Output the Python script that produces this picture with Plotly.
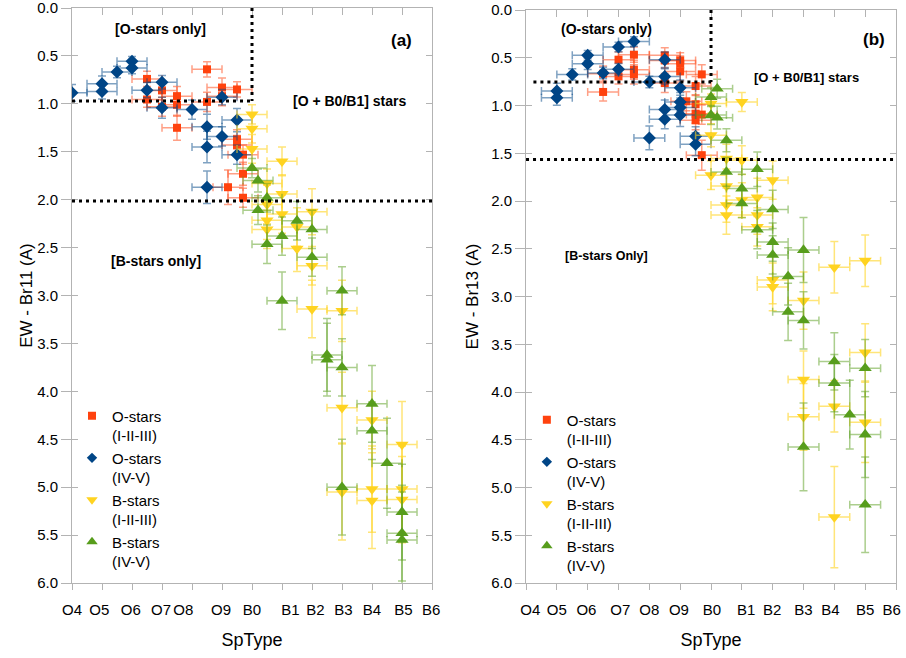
import plotly.graph_objects as go

# ---------------- data ----------------
# spectral-type scale: O4=0, O5=1, ... O9=5, B0=6, B1=7 ... B6=12
sp_labels = ["O4", "O5", "O6", "O7", "O8", "O9", "B0", "B1", "B2", "B3", "B4", "B5", "B6"]
sp_label_pos_a = [0.0, 0.91, 1.96, 2.97, 3.71, 4.97, 6.0, 7.28, 8.11, 9.05, 10.0, 11.05, 11.97]
sp_label_pos_b = [0.14, 1.0, 1.96, 3.06, 4.0, 4.96, 6.03, 7.14, 7.98, 9.0, 9.87, 11.0, 11.86]
sp_err = 0.5

# Panel (a): EW Br11
a_Ogiant_sp = [2.5, 2.5, 3, 3, 3.5, 3.5, 3.5, 4.5, 4.5, 5, 5, 5.5, 5.5, 5.5, 5.7, 5.7, 5.2, 5.7]
a_Ogiant_ew = [0.74, 0.955, 0.86, 1.03, 0.92, 1.01, 1.25, 0.64, 0.98, 0.83, 0.92, 0.85, 1.37, 1.43, 1.53, 1.73, 1.87, 1.98]
a_Ogiant_er = [0.08, 0.08, 0.1, 0.1, 0.1, 0.12, 0.13, 0.08, 0.1, 0.1, 0.1, 0.08, 0.1, 0.1, 0.1, 0.12, 0.18, 0.1]

a_Odwarf_sp = [0, 1, 1, 1.5, 2, 2, 2.5, 3, 3, 4, 4.5, 4.5, 4.5, 5, 5, 5.5, 5.5]
a_Odwarf_ew = [0.885, 0.79, 0.87, 0.667, 0.555, 0.625, 0.857, 0.774, 1.04, 1.06, 1.24, 1.45, 1.87, 1.34, 0.93, 1.17, 1.53]
a_Odwarf_er = [0.087, 0.08, 0.08, 0.06, 0.05, 0.06, 0.08, 0.07, 0.11, 0.1, 0.13, 0.165, 0.17, 0.1, 0.08, 0.12, 0.1]

a_Bgiant_sp = [6, 6, 6, 7, 6.5, 7, 8, 7, 6.5, 6.5, 7.5, 6.5, 7.5, 8, 8, 9, 9, 10, 11, 9, 10, 10, 11, 11]
a_Bgiant_ew = [1.11, 1.26, 1.47, 1.6, 1.83, 1.94, 2.125, 2.15, 2.05, 2.215, 2.285, 2.31, 2.51, 2.69, 3.14, 3.16, 4.17, 4.30, 4.555, 5.05, 5.02, 5.14, 5.02, 5.13]
a_Bgiant_er = [0.1, 0.15, 0.15, 0.15, 0.15, 0.2, 0.24, 0.2, 0.2, 0.2, 0.2, 0.2, 0.24, 0.2, 0.3, 0.32, 0.37, 0.3, 0.45, 0.5, 0.45, 0.5, 0.45, 0.45]

a_Bdwarf_sp = [6, 6.2, 6.5, 6.2, 7.5, 8, 7, 6.5, 8, 9, 7, 8.5, 8.5, 9, 10, 10, 10.5, 9, 11, 11, 11]
a_Bdwarf_ew = [1.67, 1.8, 1.98, 2.11, 2.22, 2.31, 2.38, 2.465, 2.6, 2.95, 3.055, 3.62, 3.67, 3.75, 4.13, 4.41, 4.75, 5.0, 5.26, 5.48, 5.55]
a_Bdwarf_er = [0.1, 0.12, 0.15, 0.15, 0.2, 0.2, 0.2, 0.2, 0.2, 0.25, 0.3, 0.38, 0.38, 0.3, 0.4, 0.3, 0.47, 0.5, 0.5, 0.5, 0.5]

# Panel (b): EW Br13
b_Ogiant_sp = [2.5, 2.5, 3, 3, 3.5, 3.5, 3.5, 4.5, 4.5, 4.5, 5, 5, 5, 5.5, 5.7, 5.2, 5.5, 5.5, 5.5, 5.7, 5.7]
b_Ogiant_ew = [0.667, 0.858, 0.52, 0.695, 0.468, 0.625, 0.674, 0.475, 0.528, 0.765, 0.528, 0.562, 0.643, 0.796, 0.674, 0.956, 0.987, 1.085, 1.155, 1.095, 1.52]
b_Ogiant_er = [0.08, 0.095, 0.08, 0.08, 0.08, 0.1, 0.1, 0.08, 0.08, 0.1, 0.08, 0.08, 0.1, 0.1, 0.1, 0.1, 0.1, 0.1, 0.1, 0.1, 0.157]

b_Odwarf_sp = [1, 1, 1.5, 2, 2, 2.5, 3, 3, 3.5, 4, 4.5, 4.5, 4.5, 4.5, 4, 5, 5, 5, 5, 5.5, 5.5]
b_Odwarf_ew = [0.848, 0.918, 0.674, 0.475, 0.562, 0.66, 0.388, 0.62, 0.329, 0.754, 0.521, 0.695, 1.043, 1.144, 1.339, 0.813, 0.963, 1.022, 1.10, 1.322, 1.405]
b_Odwarf_er = [0.08, 0.08, 0.06, 0.05, 0.06, 0.06, 0.05, 0.06, 0.05, 0.06, 0.08, 0.08, 0.1, 0.1, 0.125, 0.08, 0.1, 0.1, 0.12, 0.1, 0.12]

b_Bgiant_sp = [6, 7, 6, 6.5, 7, 6, 6.5, 6.5, 7, 7.5, 8, 6.5, 7.5, 7.5, 8, 8, 9, 10, 11, 11, 9, 10, 9, 11, 10]
b_Bgiant_ew = [0.98, 0.963, 1.311, 1.555, 1.572, 1.729, 1.844, 2.043, 1.99, 1.962, 1.782, 2.147, 2.147, 2.27, 2.826, 2.90, 3.043, 2.694, 2.625, 3.586, 3.87, 4.15, 4.26, 4.318, 5.31]
b_Bgiant_er = [0.1, 0.1, 0.12, 0.15, 0.15, 0.15, 0.18, 0.18, 0.18, 0.2, 0.2, 0.2, 0.2, 0.2, 0.25, 0.25, 0.3, 0.27, 0.27, 0.3, 0.3, 0.27, 0.35, 0.42, 0.53]

b_Bdwarf_sp = [6.2, 6, 6, 6.2, 6.5, 6.5, 7, 7, 7.5, 8, 7.5, 8, 8, 9, 8.5, 8.5, 9, 10, 11, 10, 10.5, 11, 9, 11]
b_Bdwarf_ew = [0.824, 0.911, 1.10, 1.127, 1.364, 1.695, 1.869, 2.025, 1.667, 2.088, 2.30, 2.43, 2.565, 2.513, 2.79, 3.16, 3.25, 3.68, 3.75, 3.906, 4.237, 4.446, 4.575, 5.18]
b_Bdwarf_er = [0.1, 0.1, 0.1, 0.12, 0.12, 0.15, 0.15, 0.15, 0.18, 0.2, 0.2, 0.2, 0.2, 0.34, 0.3, 0.3, 0.3, 0.3, 0.3, 0.3, 0.36, 0.45, 0.46, 0.5]

# region boundaries
a_bound_sp = 6.0
a_bound_ew_O = 0.97
a_bound_ew_B = 2.015
b_bound_sp = 6.0
b_bound_ew_O = 0.755
b_bound_ew_B = 1.565
b_bound_O_start = 0.24

series = [
    ("O-stars<br>(I-II-III)", "square", 8, "#ff420e", "rgba(255,66,14,0.5)"),
    ("O-stars<br>(IV-V)", "diamond", 10, "#004586", "rgba(0,69,134,0.5)"),
    ("B-stars<br>(I-II-III)", "triangle-down", 11.5, "#ffd320", "rgba(255,211,32,0.6)"),
    ("B-stars<br>(IV-V)", "triangle-up", 11.5, "#579d1c", "rgba(87,157,28,0.5)"),
]
legend_sizes = [8, 8, 10, 10]

panel_a = [(a_Ogiant_sp, a_Ogiant_ew, a_Ogiant_er), (a_Odwarf_sp, a_Odwarf_ew, a_Odwarf_er),
           (a_Bgiant_sp, a_Bgiant_ew, a_Bgiant_er), (a_Bdwarf_sp, a_Bdwarf_ew, a_Bdwarf_er)]
panel_b = [(b_Ogiant_sp, b_Ogiant_ew, b_Ogiant_er), (b_Odwarf_sp, b_Odwarf_ew, b_Odwarf_er),
           (b_Bgiant_sp, b_Bgiant_ew, b_Bgiant_er), (b_Bdwarf_sp, b_Bdwarf_ew, b_Bdwarf_er)]

fig = go.Figure()

for panel, xa, ya, leg in [(panel_a, "x", "y", "legend"), (panel_b, "x2", "y2", "legend2")]:
    for (name, sym, size, col, ecol), (sx, ew, er) in zip(series, panel):
        fig.add_trace(go.Scatter(
            x=sx, y=ew, mode="markers", xaxis=xa, yaxis=ya, showlegend=False,
            marker=dict(symbol=sym, size=size, color=col, line=dict(width=0)),
            error_x=dict(type="constant", value=sp_err, color=ecol, thickness=1.5, width=4),
            error_y=dict(type="data", array=er, color=ecol, thickness=1.5, width=4),
            hoverinfo="skip"))
    for (name, sym, size, col, ecol), lsz in zip(series, legend_sizes):
        fig.add_trace(go.Scatter(
            x=[None], y=[None], mode="markers", xaxis=xa, yaxis=ya, name=name, legend=leg,
            marker=dict(symbol=sym, size=lsz, color=col)))

# dummy traces for tick-only overlay axes
for xa, ya in [("x3", "y3"), ("x5", "y3"), ("x4", "y4"), ("x6", "y4")]:
    fig.add_trace(go.Scatter(x=[None], y=[None], xaxis=xa, yaxis=ya, showlegend=False))

GREY = "#b3b3b3"
FONT = "Liberation Sans, Arial, sans-serif"
XR = [0, 12]
YR = [6, 0]

def label_xaxis(domain, anchor, pos):
    return dict(domain=domain, anchor=anchor, range=XR, tickmode="array", tickvals=pos,
                ticktext=sp_labels, ticks="", showgrid=False, zeroline=False,
                showline=True, linecolor=GREY, linewidth=1, ticklabelstandoff=13,
                tickangle=0, automargin=False, ticklabeloverflow="allow",
                tickfont=dict(size=15, color="#000"),
                title=dict(text="SpType", font=dict(size=18, color="#000"), standoff=16))

def tick_xaxis(over, anchor, side, ticks, ln):
    return dict(overlaying=over, anchor=anchor, side=side, range=XR, tickmode="linear",
                tick0=0, dtick=1, ticks=ticks, ticklen=ln, tickcolor=GREY, tickwidth=1,
                showticklabels=False, showgrid=False, zeroline=False, automargin=False,
                showline=True, linecolor=GREY)

def label_yaxis(domain, anchor, title, standoff):
    return dict(domain=domain, anchor=anchor, range=YR, tickmode="linear", tick0=0, dtick=0.5,
                tickformat=".1f", ticks="outside", ticklen=10, tickcolor=GREY, tickwidth=1,
                showgrid=False, zeroline=False, showline=True, linecolor=GREY, automargin=False,
                ticklabeloverflow="allow",
                tickfont=dict(size=15, color="#000"),
                title=dict(text=title, font=dict(size=17, color="#000"), standoff=standoff))

def tick_yaxis(over, anchor):
    return dict(overlaying=over, anchor=anchor, side="right", range=YR, tickmode="linear",
                tick0=0, dtick=0.5, ticks="inside", ticklen=6, tickcolor=GREY, tickwidth=1,
                mirror="ticks", showticklabels=False, showgrid=False, zeroline=False,
                automargin=False, showline=True, linecolor=GREY)

dom_xa = [0.0, 0.4369]
dom_xb = [0.551, 1.0]
dom_ya = [0.0, 1.0]
dom_yb = [0.0, 0.9965]

fig.update_layout(
    width=906, height=658,
    margin=dict(l=72, r=10, t=8, b=75, autoexpand=False),
    paper_bgcolor="white", plot_bgcolor="white",
    font=dict(family=FONT, color="#000"),
    xaxis=label_xaxis(dom_xa, "y", sp_label_pos_a),
    xaxis2=label_xaxis(dom_xb, "y2", sp_label_pos_b),
    xaxis3=tick_xaxis("x", "y", "bottom", "outside", 6),
    xaxis5=tick_xaxis("x", "y", "top", "inside", 7),
    xaxis4=tick_xaxis("x2", "y2", "bottom", "outside", 6),
    xaxis6=tick_xaxis("x2", "y2", "top", "inside", 7),
    yaxis=label_yaxis(dom_ya, "x", "EW - Br11 (A)", 0),
    yaxis2=label_yaxis(dom_yb, "x2", "EW - Br13 (A)", 8),
    yaxis3=tick_yaxis("y", "x"),
    yaxis4=tick_yaxis("y2", "x2"),
    legend=dict(x=0.0, y=0.319, xanchor="left", yanchor="top", valign="top",
                bgcolor="rgba(0,0,0,0)", font=dict(size=15, color="#000"), itemclick=False),
    legend2=dict(x=0.552, y=0.312, xanchor="left", yanchor="top", valign="top",
                 bgcolor="rgba(0,0,0,0)", font=dict(size=15, color="#000"), itemclick=False),
    showlegend=True,
)

dot = dict(color="black", width=3, dash="3px,4px")
shapes = [
    dict(type="line", xref="x", yref="y", x0=a_bound_sp, x1=a_bound_sp, y0=0, y1=a_bound_ew_O, line=dot),
    dict(type="line", xref="x", yref="y", x0=0, x1=a_bound_sp, y0=a_bound_ew_O, y1=a_bound_ew_O, line=dot),
    dict(type="line", xref="x", yref="y", x0=0, x1=12.1, y0=a_bound_ew_B, y1=a_bound_ew_B, line=dot),
    dict(type="line", xref="x2", yref="y2", x0=b_bound_sp, x1=b_bound_sp, y0=0, y1=b_bound_ew_O, line=dot),
    dict(type="line", xref="x2", yref="y2", x0=b_bound_O_start, x1=b_bound_sp, y0=b_bound_ew_O, y1=b_bound_ew_O, line=dot),
    dict(type="line", xref="x2", yref="y2", x0=0, x1=12, y0=b_bound_ew_B, y1=b_bound_ew_B, line=dot),
]
fig.update_layout(shapes=shapes)

def note(text, x, y, xr, yr, size):
    return dict(text="<b>%s</b>" % text, x=x, y=y, xref=xr, yref=yr, showarrow=False,
                font=dict(size=size, color="#000", family=FONT), xanchor="center", yanchor="middle")

fig.update_layout(annotations=[
    note("[O-stars only]", 2.95, 0.22, "x", "y", 14),
    note("(a)", 10.97, 0.336, "x", "y", 17),
    note("[O + B0/B1] stars", 9.24, 0.97, "x", "y", 14),
    note("[B-stars only]", 2.81, 2.635, "x", "y", 14),
    note("(O-stars only)", 2.6, 0.204, "x2", "y2", 14),
    note("(b)", 11.3, 0.312, "x2", "y2", 17),
    note("[O + B0/B1] stars", 9.09, 0.709, "x2", "y2", 13),
    note("[B-stars Only]", 2.6, 2.578, "x2", "y2", 12.5),
])

# the page's default 8px body margin would shift the whole figure; remove it
fig.write_html("out.html", config={"displayModeBar": False},
               post_script="document.body.style.margin='0px';")
